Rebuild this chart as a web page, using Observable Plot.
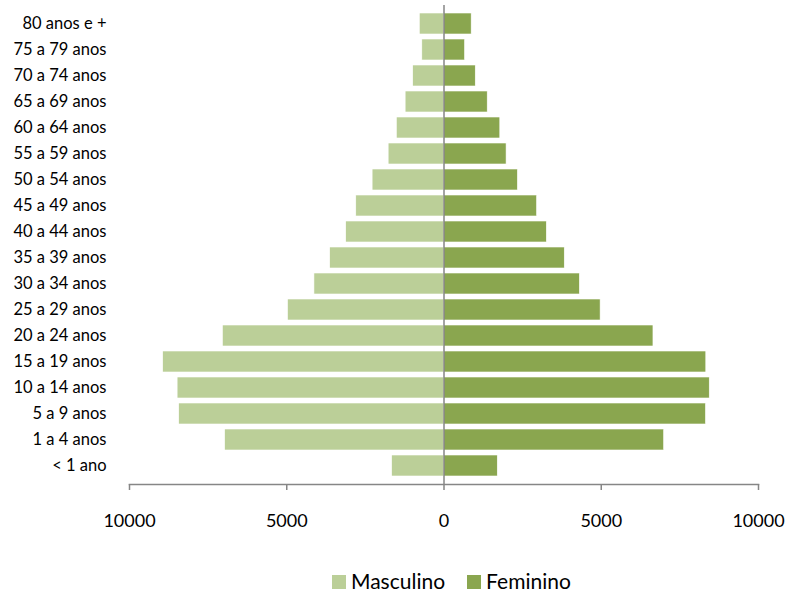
<!DOCTYPE html>
<html>
<head>
<meta charset="utf-8">
<script src="https://cdn.jsdelivr.net/npm/d3@7"></script>
<script src="https://cdn.jsdelivr.net/npm/@observablehq/plot@0.6"></script>
<style>
  body { margin: 0; background: #fff; font-family: Lato, "Open Sans", sans-serif; position: relative; width: 787px; height: 593px; overflow: hidden; }
  #chart { width: 787px; position: absolute; left: 0; top: 0; }
  #legend { position: absolute; left: 332px; top: 569px; display: flex; align-items: center; gap: 22px; font-size: 21px; line-height: 23px; color: #000; white-space: nowrap; }
  .sw { display: inline-block; width: 14px; height: 14px; margin-right: 5px; vertical-align: 0px; }
</style>
</head>
<body>
<div id="chart"></div>
<script>
const ageGroups = ["80 anos e +", "75 a 79 anos", "70 a 74 anos", "65 a 69 anos", "60 a 64 anos", "55 a 59 anos",
  "50 a 54 anos", "45 a 49 anos", "40 a 44 anos", "35 a 39 anos", "30 a 34 anos", "25 a 29 anos",
  "20 a 24 anos", "15 a 19 anos", "10 a 14 anos", "5 a 9 anos", "1 a 4 anos", "< 1 ano"];
const masculino = [770, 690, 980, 1220, 1500, 1760, 2270, 2790, 3110, 3620, 4120, 4960, 7030, 8930, 8470, 8420, 6960, 1650];
const feminino = [880, 670, 1010, 1390, 1790, 1990, 2350, 2960, 3270, 3840, 4320, 4980, 6660, 8340, 8450, 8330, 7000, 1710];
const xTicks = [-10000, -5000, 0, 5000, 10000];
const seriesNames = ["Masculino", "Feminino"];
const seriesColors = ["#BBCF98", "#8AA64F"];

const rows = ageGroups.map((g, i) => ({age: g, m: masculino[i], f: feminino[i]}));

const chart = Plot.plot({
  width: 787,
  height: 545,
  marginLeft: 129,
  marginRight: 29,
  marginTop: 5,
  marginBottom: 61,
  style: {fontFamily: "Lato, 'Open Sans', sans-serif", color: "#000", background: "#fff"},
  x: {domain: [-10000, 10000]},
  y: {domain: ageGroups, padding: 0.19},
  marks: [
    Plot.barX(rows, {y: "age", x1: 0, x2: d => -d.m, fill: seriesColors[0], stroke: "#fff", strokeWidth: 0.6}),
    Plot.barX(rows, {y: "age", x1: 0, x2: d => d.f, fill: seriesColors[1], stroke: "#fff", strokeWidth: 0.6}),
    Plot.ruleX([0], {stroke: "#868686", strokeWidth: 1.5}),
    Plot.frame({anchor: "bottom", stroke: "#868686", strokeWidth: 1.5}),
    Plot.axisX({ticks: xTicks, tickFormat: d => String(Math.abs(d)), tickSize: 6, tickPadding: 24, fontSize: 18, stroke: "#868686", strokeWidth: 1.5, label: null, fill: "#000"}),
    Plot.axisY({tickSize: 0, tickPadding: 23, fontSize: 16.5, label: null, fill: "#000"})
  ]
});
document.getElementById("chart").appendChild(chart);

const legend = document.createElement("div");
legend.id = "legend";
seriesNames.forEach((n, i) => {
  const item = document.createElement("span");
  item.innerHTML = `<span class="sw" style="background:${seriesColors[i]}"></span>${n}`;
  legend.appendChild(item);
});
document.body.appendChild(legend);
</script>
</body>
</html>
